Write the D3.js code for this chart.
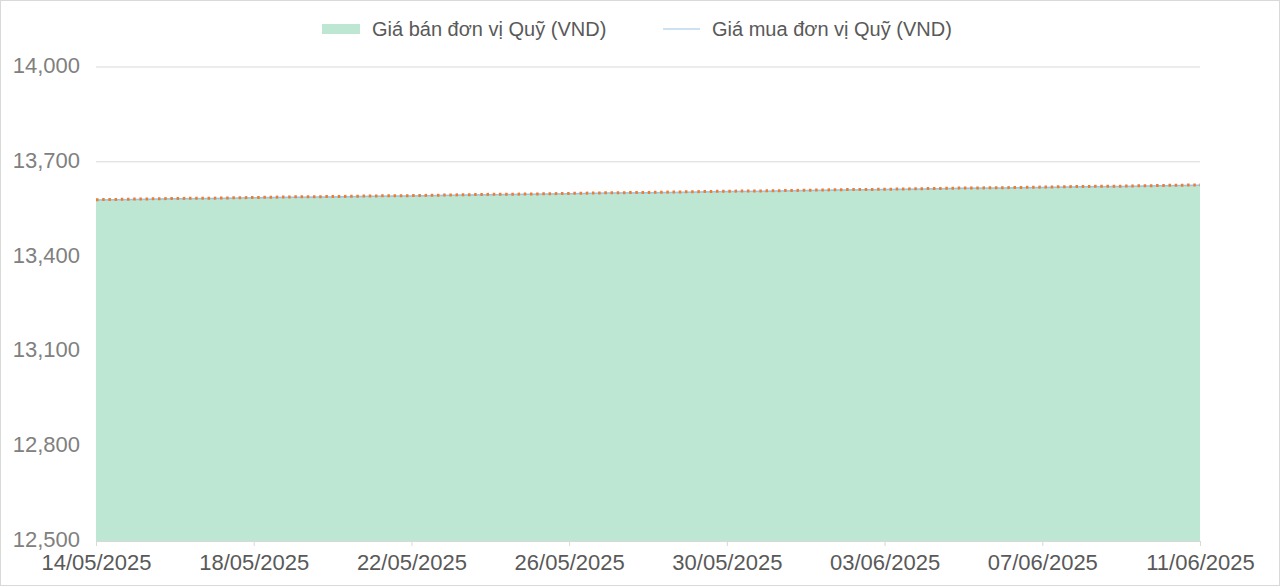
<!DOCTYPE html>
<html>
<head>
<meta charset="utf-8">
<title>Giá đơn vị Quỹ</title>
<script src="https://d3js.org/d3.v7.min.js"></script>
<style>
  body { margin: 0; background: #fff; }
  svg text { font-family: "Liberation Sans", Arial, sans-serif; }
  .grid line { stroke: #d9d9d9; stroke-width: 1px; }
  .sell-edge { fill: none; stroke: #ed7d31; stroke-width: 3px; stroke-dasharray: 2.5 3.7; }
  .buy-line { fill: none; stroke: #9dc3e6; stroke-width: 1.5px; }
</style>
</head>
<body>
<script>
// dates (daily) and the two price series
let dates = ["14/05/2025","15/05/2025","16/05/2025","17/05/2025","18/05/2025","19/05/2025","20/05/2025",
  "21/05/2025","22/05/2025","23/05/2025","24/05/2025","25/05/2025","26/05/2025","27/05/2025","28/05/2025",
  "29/05/2025","30/05/2025","31/05/2025","01/06/2025","02/06/2025","03/06/2025","04/06/2025","05/06/2025",
  "06/06/2025","07/06/2025","08/06/2025","09/06/2025","10/06/2025","11/06/2025"];
let sellPrice = [13580,13582,13584,13585,13587,13589,13590,13592,13593,13595,13597,13598,13600,13602,13603,
  13605,13607,13608,13610,13612,13613,13615,13617,13618,13620,13622,13623,13625,13627];
let buyPrice = [13579,13581,13583,13584,13586,13588,13589,13591,13592,13594,13596,13597,13599,13601,13602,
  13604,13606,13607,13609,13611,13612,13614,13616,13617,13619,13621,13622,13624,13626];
let xTickLabels = ["14/05/2025","18/05/2025","22/05/2025","26/05/2025","30/05/2025","03/06/2025","07/06/2025","11/06/2025"];
let yTicks = [12500, 12800, 13100, 13400, 13700, 14000];
let seriesNames = ["Giá bán đơn vị Quỹ (VND)", "Giá mua đơn vị Quỹ (VND)"];

let svgwidth = 1280, svgheight = 587;
let margin = {top: 67, right: 80, bottom: 46, left: 96};
let width = svgwidth - margin.left - margin.right;
let height = svgheight - margin.top - margin.bottom;

let parseTime = d3.timeParse("%d/%m/%Y");
let data = dates.map(function (d, i) {
  return {date: parseTime(d), sell: sellPrice[i], buy: buyPrice[i]};
});

let x = d3.scaleTime()
  .domain(d3.extent(data, function (d) { return d.date; }))
  .range([0, width]);
let y = d3.scaleLinear().domain([12500, 14000]).range([height, 0]);

let root = d3.select("body").append("svg")
  .attr("width", svgwidth)
  .attr("height", svgheight);

// chart border
root.append("rect")
  .attr("x", 0.5).attr("y", 0.5)
  .attr("width", svgwidth - 1).attr("height", svgheight - 2)
  .attr("fill", "none").attr("stroke", "#d9d9d9");

let svg = root.append("g")
  .attr("transform", "translate(" + margin.left + "," + margin.top + ")");

// gridlines
svg.append("g")
  .attr("class", "grid")
  .selectAll("line")
  .data(yTicks.slice(1))
  .join("line")
  .attr("x1", 0).attr("x2", width)
  .attr("y1", function (d) { return y(d); })
  .attr("y2", function (d) { return y(d); });

// area for sell price
let area = d3.area()
  .x(function (d) { return x(d.date); })
  .y0(height)
  .y1(function (d) { return y(d.sell); });
svg.append("path")
  .datum(data)
  .attr("fill", "#bde6d3")
  .attr("d", area);

// buy price line
let buyLine = d3.line()
  .x(function (d) { return x(d.date); })
  .y(function (d) { return y(d.buy); });
svg.append("path")
  .datum(data)
  .attr("class", "buy-line")
  .attr("d", buyLine);

// dotted edge on top of the area
let sellLine = d3.line()
  .x(function (d) { return x(d.date); })
  .y(function (d) { return y(d.sell); });
svg.append("path")
  .datum(data)
  .attr("class", "sell-edge")
  .attr("d", sellLine);

// x axis
let xAxis = svg.append("g")
  .attr("transform", "translate(0," + height + ")")
  .call(d3.axisBottom(x)
    .tickValues(xTickLabels.map(parseTime))
    .tickFormat(d3.timeFormat("%d/%m/%Y"))
    .tickSize(5)
    .tickSizeOuter(0));
xAxis.select(".domain").attr("stroke", "#d9d9d9");
xAxis.selectAll(".tick line").attr("stroke", "#d9d9d9");
xAxis.selectAll(".tick text")
  .attr("fill", "#595959")
  .attr("font-size", 22)
  .attr("dy", "0.9em")
  .attr("y", 9);

// y axis
let yAxis = svg.append("g")
  .call(d3.axisLeft(y)
    .tickValues(yTicks)
    .tickFormat(d3.format(","))
    .tickSize(0)
    .tickPadding(16));
yAxis.select(".domain").remove();
yAxis.selectAll(".tick text")
  .attr("fill", "#808080")
  .attr("font-size", 22)
  .attr("dy", "0.25em");

// legend
let legend = root.append("g");
legend.append("rect")
  .attr("x", 322).attr("y", 24)
  .attr("width", 38).attr("height", 10)
  .attr("fill", "#bde6d3");
legend.append("text")
  .attr("x", 372).attr("y", 29)
  .attr("dy", "0.35em")
  .attr("font-size", 20)
  .attr("fill", "#595959")
  .text(seriesNames[0]);
legend.append("line")
  .attr("x1", 663).attr("x2", 700)
  .attr("y1", 29).attr("y2", 29)
  .attr("stroke", "#9dc3e6").attr("stroke-width", 1);
legend.append("text")
  .attr("x", 712).attr("y", 29)
  .attr("dy", "0.35em")
  .attr("font-size", 20)
  .attr("fill", "#595959")
  .text(seriesNames[1]);
</script>
</body>
</html>
